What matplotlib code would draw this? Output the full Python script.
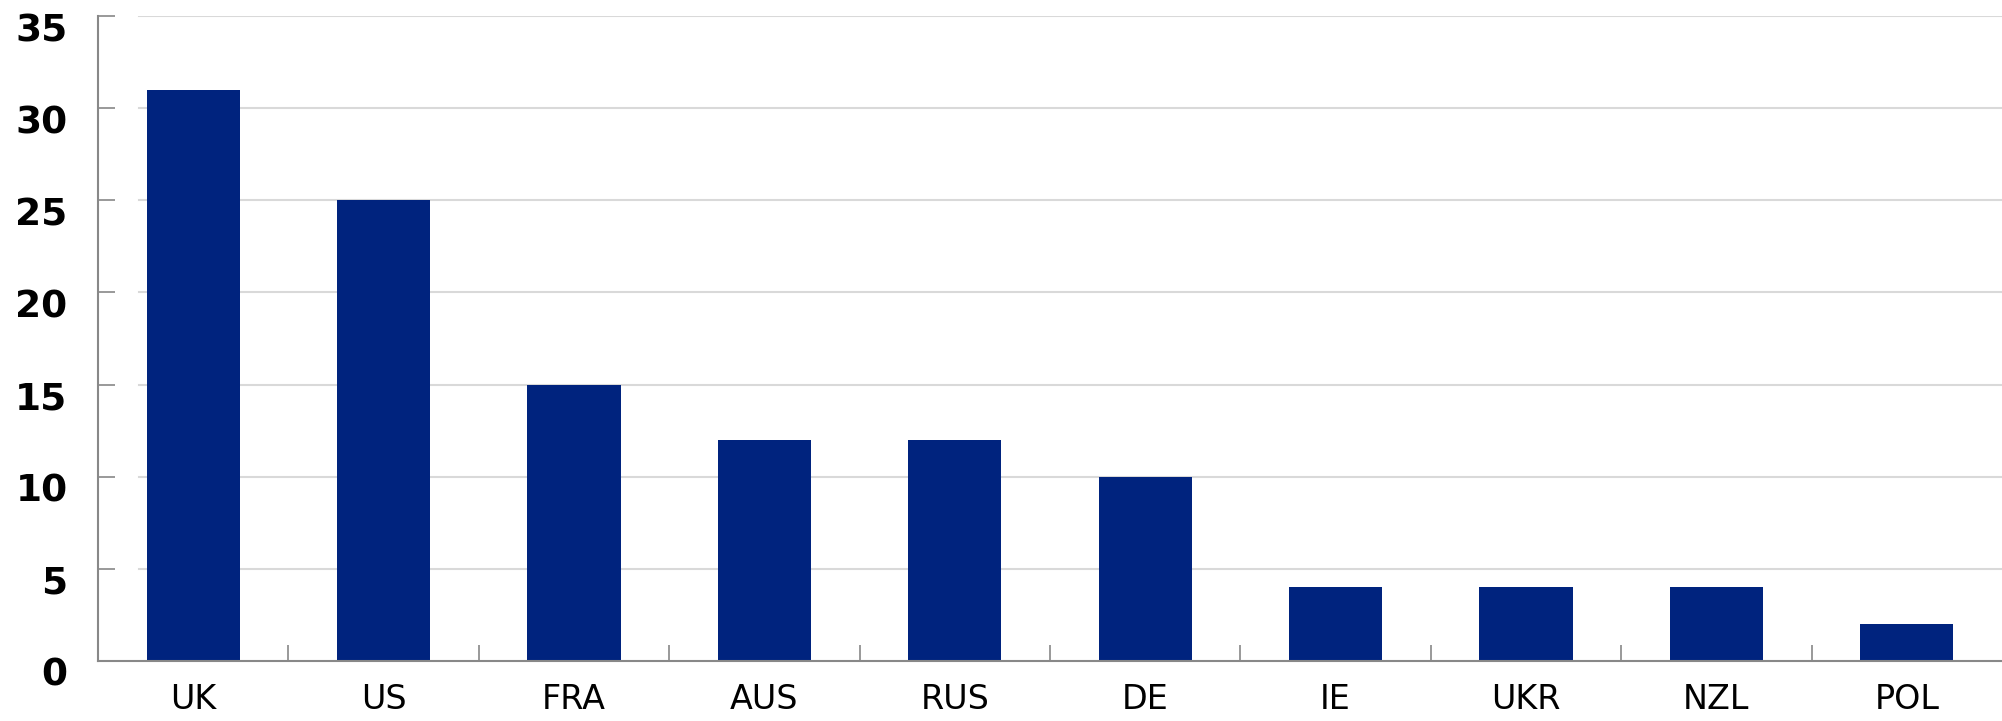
import numpy as np
import matplotlib
matplotlib.use("Agg")
import matplotlib.pyplot as plt
from matplotlib.transforms import ScaledTranslation

countries = ["UK", "US", "FRA", "AUS", "RUS", "DE", "IE", "UKR", "NZL", "POL"]
counts = [31, 25, 15, 12, 12, 10, 4, 4, 4, 2]
y_ticks = [0, 5, 10, 15, 20, 25, 30, 35]

bar_color = "#00237e"
axis_color = "#888888"
grid_color = "#d9d9d9"

fig = plt.figure(figsize=(20.02, 7.21), dpi=100)
ax = fig.add_axes([98 / 2002, 60 / 721, 1904 / 2002, 645 / 721])

x = np.arange(len(countries))

# light gridlines, starting a little right of the y axis
for yv in y_ticks[1:]:
    ax.axhline(yv, xmin=41 / 1904, xmax=1, color=grid_color, lw=1.5, zorder=1)

ax.bar(x, counts, width=0.49, color=bar_color, zorder=2)

ax.set_xlim(-0.5, len(countries) - 0.5)
ax.set_ylim(0, 35)

for side in ["top", "right"]:
    ax.spines[side].set_visible(False)
for side in ["left", "bottom"]:
    ax.spines[side].set_color(axis_color)
    ax.spines[side].set_linewidth(1.5)

ax.set_yticks(y_ticks)
ax.set_yticklabels([str(v) for v in y_ticks])
ax.tick_params(axis="y", direction="in", length=12, width=1.2, color=axis_color,
               pad=22, labelsize=27)
for lbl in ax.get_yticklabels():
    lbl.set_fontweight("bold")
    lbl.set_transform(lbl.get_transform() + ScaledTranslation(0, -11 / 100, fig.dpi_scale_trans))

ax.set_xticks(x)
ax.set_xticklabels(countries)
ax.set_xticks(x[:-1] + 0.5, minor=True)
ax.tick_params(axis="x", which="major", length=0, pad=16, labelsize=24)
ax.tick_params(axis="x", which="minor", direction="in", length=11.5, width=1.2,
               color=axis_color)

fig.savefig("out.png", dpi=100, facecolor="white")
